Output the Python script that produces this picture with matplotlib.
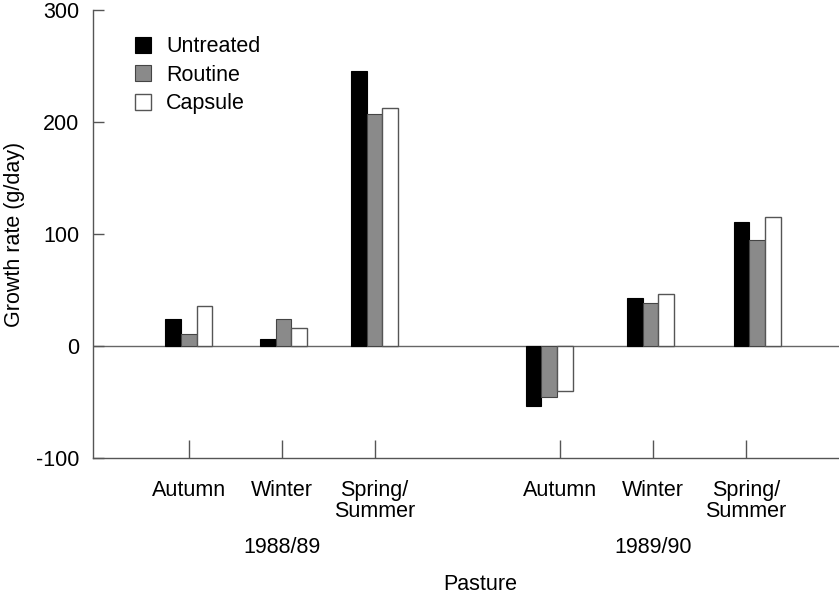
import matplotlib
matplotlib.use('Agg')
import matplotlib.pyplot as plt
import numpy as np

plt.rcParams['font.family'] = ['Liberation Sans', 'DejaVu Sans']
plt.rcParams['axes.unicode_minus'] = False

# data
seasons = ['Autumn', 'Winter', 'Spring/\nSummer', 'Autumn', 'Winter', 'Spring/\nSummer']
years = ['1988/89', '1989/90']
positions = [0, 1, 2, 4, 5, 6]
untreated = [24, 6, 246, -54, 43, 111]
routine = [11, 24, 207, -46, 38, 95]
capsule = [36, 16, 213, -40, 46, 115]

fs = 15.5

fig = plt.figure(figsize=(8.39, 6), dpi=100)
ax = fig.add_axes([0.111, 0.237, 0.889, 0.746])

# bars in the original are not quite centred on the ticks
shift = np.array([0, 0.02, 0, -0.12, -0.03, 0.12])
pos = np.array(positions, dtype=float) + shift
w = 0.17
ax.bar(pos - w, untreated, w, color='black', edgecolor='black', linewidth=0.8, label='Untreated')
ax.bar(pos, routine, w, color='#8a8a8a', edgecolor='#444444', linewidth=0.8, label='Routine')
ax.bar(pos + w, capsule, w, color='white', edgecolor='#555555', linewidth=1.0, label='Capsule')

ax.axhline(0, color='#666666', linewidth=1.0, zorder=0)

ax.set_xlim(-1.03, 7.0)
ax.set_ylim(-100, 300)
ax.set_yticks([-100, 0, 100, 200, 300])
ax.set_xticks(positions)
ax.set_xticklabels(seasons, fontsize=fs, linespacing=1.0, va='top')

for s in ['top', 'right']:
    ax.spines[s].set_visible(False)
for s in ['left', 'bottom']:
    ax.spines[s].set_color('#555555')
    ax.spines[s].set_linewidth(1.0)

ax.tick_params(axis='y', direction='in', length=8, width=1, color='#555555', labelsize=fs, pad=10)
ax.tick_params(axis='x', direction='in', length=13, width=1, color='#555555', labelsize=fs, pad=16)

ax.set_ylabel('Growth rate (g/day)', fontsize=fs, labelpad=8)

ax.text(1, -0.2, years[0], transform=ax.get_xaxis_transform(), ha='center', va='center', fontsize=fs)
ax.text(5, -0.2, years[1], transform=ax.get_xaxis_transform(), ha='center', va='center', fontsize=fs)
fig.text(0.572, 0.026, 'Pasture', ha='center', va='center', fontsize=fs)

ax.legend(loc='upper left', bbox_to_anchor=(0.03, 0.985), frameon=False, fontsize=fs,
          handlelength=0.75, handleheight=0.75, labelspacing=0.35, handletextpad=0.7)

fig.savefig('out.png', dpi=100)
